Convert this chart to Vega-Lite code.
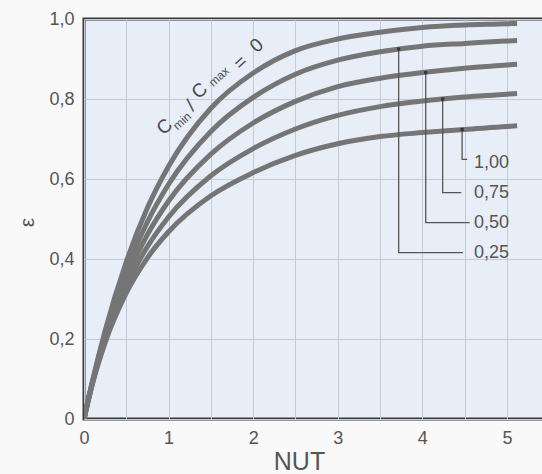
{
  "$schema": "https://vega.github.io/schema/vega-lite/v6.json",
  "width": 461,
  "height": 400,
  "autosize": "none",
  "padding": {"left": 84, "top": 19, "right": 0, "bottom": 55},
  "background": "#f9f9f9",
  "config": {
    "view": {"fill": "#e8eef8", "stroke": "#3a3a3a", "strokeWidth": 3},
    "font": "Liberation Sans"
  },
  "datasets": {
    "curves": [
      {"C": "0", "N": 0, "eps": 0}, {"C": "0", "N": 0.05, "eps": 0.049}, {"C": "0", "N": 0.1, "eps": 0.095}, {"C": "0", "N": 0.25, "eps": 0.221}, {"C": "0", "N": 0.5, "eps": 0.393}, {"C": "0", "N": 0.75, "eps": 0.528}, {"C": "0", "N": 1, "eps": 0.632}, {"C": "0", "N": 1.5, "eps": 0.777}, {"C": "0", "N": 2, "eps": 0.865}, {"C": "0", "N": 2.5, "eps": 0.921}, {"C": "0", "N": 3, "eps": 0.950}, {"C": "0", "N": 3.5, "eps": 0.967}, {"C": "0", "N": 4, "eps": 0.979}, {"C": "0", "N": 4.5, "eps": 0.985}, {"C": "0", "N": 5, "eps": 0.988}, {"C": "0", "N": 5.12, "eps": 0.989},
      {"C": "0.25", "N": 0, "eps": 0}, {"C": "0.25", "N": 0.05, "eps": 0.048}, {"C": "0.25", "N": 0.1, "eps": 0.093}, {"C": "0.25", "N": 0.25, "eps": 0.213}, {"C": "0.25", "N": 0.5, "eps": 0.372}, {"C": "0.25", "N": 0.75, "eps": 0.493}, {"C": "0.25", "N": 1, "eps": 0.587}, {"C": "0.25", "N": 1.5, "eps": 0.719}, {"C": "0.25", "N": 2, "eps": 0.804}, {"C": "0.25", "N": 2.5, "eps": 0.862}, {"C": "0.25", "N": 3, "eps": 0.897}, {"C": "0.25", "N": 3.5, "eps": 0.918}, {"C": "0.25", "N": 4, "eps": 0.932}, {"C": "0.25", "N": 4.5, "eps": 0.939}, {"C": "0.25", "N": 5, "eps": 0.945}, {"C": "0.25", "N": 5.12, "eps": 0.946},
      {"C": "0.5", "N": 0, "eps": 0}, {"C": "0.5", "N": 0.05, "eps": 0.047}, {"C": "0.5", "N": 0.1, "eps": 0.091}, {"C": "0.5", "N": 0.25, "eps": 0.206}, {"C": "0.5", "N": 0.5, "eps": 0.352}, {"C": "0.5", "N": 0.75, "eps": 0.461}, {"C": "0.5", "N": 1, "eps": 0.545}, {"C": "0.5", "N": 1.5, "eps": 0.662}, {"C": "0.5", "N": 2, "eps": 0.740}, {"C": "0.5", "N": 2.5, "eps": 0.794}, {"C": "0.5", "N": 3, "eps": 0.831}, {"C": "0.5", "N": 3.5, "eps": 0.852}, {"C": "0.5", "N": 4, "eps": 0.866}, {"C": "0.5", "N": 4.5, "eps": 0.877}, {"C": "0.5", "N": 5, "eps": 0.885}, {"C": "0.5", "N": 5.12, "eps": 0.887},
      {"C": "0.75", "N": 0, "eps": 0}, {"C": "0.75", "N": 0.05, "eps": 0.047}, {"C": "0.75", "N": 0.1, "eps": 0.090}, {"C": "0.75", "N": 0.25, "eps": 0.198}, {"C": "0.75", "N": 0.5, "eps": 0.333}, {"C": "0.75", "N": 0.75, "eps": 0.431}, {"C": "0.75", "N": 1, "eps": 0.505}, {"C": "0.75", "N": 1.5, "eps": 0.608}, {"C": "0.75", "N": 2, "eps": 0.676}, {"C": "0.75", "N": 2.5, "eps": 0.725}, {"C": "0.75", "N": 3, "eps": 0.759}, {"C": "0.75", "N": 3.5, "eps": 0.781}, {"C": "0.75", "N": 4, "eps": 0.795}, {"C": "0.75", "N": 4.5, "eps": 0.805}, {"C": "0.75", "N": 5, "eps": 0.812}, {"C": "0.75", "N": 5.12, "eps": 0.814},
      {"C": "1", "N": 0, "eps": 0}, {"C": "1", "N": 0.05, "eps": 0.046}, {"C": "1", "N": 0.1, "eps": 0.088}, {"C": "1", "N": 0.25, "eps": 0.191}, {"C": "1", "N": 0.5, "eps": 0.315}, {"C": "1", "N": 0.75, "eps": 0.403}, {"C": "1", "N": 1, "eps": 0.468}, {"C": "1", "N": 1.5, "eps": 0.558}, {"C": "1", "N": 2, "eps": 0.616}, {"C": "1", "N": 2.5, "eps": 0.659}, {"C": "1", "N": 3, "eps": 0.688}, {"C": "1", "N": 3.5, "eps": 0.706}, {"C": "1", "N": 4, "eps": 0.716}, {"C": "1", "N": 4.5, "eps": 0.724}, {"C": "1", "N": 5, "eps": 0.731}, {"C": "1", "N": 5.12, "eps": 0.733}
    ],
    "leaders": [
      {"C": "1", "ord": 1, "N": 4.47, "eps": 0.724}, {"C": "1", "ord": 2, "N": 4.47, "eps": 0.649}, {"C": "1", "ord": 3, "N": 4.53, "eps": 0.649},
      {"C": "0.75", "ord": 1, "N": 4.24, "eps": 0.800}, {"C": "0.75", "ord": 2, "N": 4.24, "eps": 0.566}, {"C": "0.75", "ord": 3, "N": 4.46, "eps": 0.566},
      {"C": "0.5", "ord": 1, "N": 4.04, "eps": 0.866}, {"C": "0.5", "ord": 2, "N": 4.04, "eps": 0.491}, {"C": "0.5", "ord": 3, "N": 4.56, "eps": 0.491},
      {"C": "0.25", "ord": 1, "N": 3.72, "eps": 0.925}, {"C": "0.25", "ord": 2, "N": 3.72, "eps": 0.416}, {"C": "0.25", "ord": 3, "N": 4.48, "eps": 0.416}
    ],
    "labels": [
      {"txt": "1,00", "N": 4.61, "eps": 0.641},
      {"txt": "0,75", "N": 4.61, "eps": 0.564},
      {"txt": "0,50", "N": 4.61, "eps": 0.491},
      {"txt": "0,25", "N": 4.61, "eps": 0.414}
    ],
    "bigtxt": [
      {"txt": "C", "N": 0.953, "eps": 0.731},
      {"txt": "/", "N": 1.261, "eps": 0.784},
      {"txt": "C", "N": 1.367, "eps": 0.821},
      {"txt": "=", "N": 1.852, "eps": 0.891},
      {"txt": "0", "N": 2.041, "eps": 0.934}
    ],
    "smalltxt": [
      {"txt": "min", "N": 1.16, "eps": 0.745},
      {"txt": "max", "N": 1.595, "eps": 0.856}
    ]
  },
  "layer": [
    {
      "data": {"name": "curves"},
      "mark": {"type": "line", "color": "#757575", "strokeWidth": 5, "interpolate": "monotone", "clip": true},
      "encoding": {
        "x": {
          "field": "N", "type": "quantitative",
          "scale": {"domain": [0, 5.45], "nice": false, "zero": false},
          "axis": {
            "values": [0, 0.5, 1, 1.5, 2, 2.5, 3, 3.5, 4, 4.5, 5],
            "labelExpr": "datum.value % 1 == 0 ? format(datum.value, 'd') : ''",
            "labelOverlap": false, "labelFlush": false,
            "grid": true, "gridColor": "#c4cbd8", "gridWidth": 1,
            "ticks": false, "domain": false,
            "labelFontSize": 18, "labelColor": "#555555", "labelPadding": 10,
            "title": "NUT", "titleFontSize": 25, "titleFontWeight": "normal", "titleColor": "#555555",
            "titleX": 215, "titleY": 50, "titleBaseline": "alphabetic", "titleAlign": "center"
          }
        },
        "y": {
          "field": "eps", "type": "quantitative",
          "scale": {"domain": [0, 1], "nice": false},
          "axis": {
            "values": [0, 0.1, 0.2, 0.3, 0.4, 0.5, 0.6, 0.7, 0.8, 0.9, 1.0],
            "labelExpr": "round(datum.value * 10) % 2 == 0 ? (datum.value == 0 ? '0' : replace(format(datum.value, '.1f'), '.', ',')) : ''",
            "labelOverlap": false, "labelFlush": false,
            "grid": true, "gridColor": "#c4cbd8", "gridWidth": 1,
            "ticks": false, "domain": false,
            "labelFontSize": 18, "labelColor": "#555555", "labelPadding": 10,
            "title": "ε", "titleFontSize": 21, "titleFontWeight": "normal", "titleColor": "#555555",
            "titleAngle": -90, "titleX": -57, "titleY": 203, "titleAlign": "center", "titleBaseline": "middle"
          }
        },
        "detail": {"field": "C"}
      }
    },
    {
      "data": {"name": "leaders"},
      "mark": {"type": "line", "color": "#555555", "strokeWidth": 1.3, "interpolate": "linear"},
      "encoding": {
        "x": {"field": "N", "type": "quantitative"},
        "y": {"field": "eps", "type": "quantitative"},
        "detail": {"field": "C"},
        "order": {"field": "ord"}
      }
    },
    {
      "data": {"name": "leaders"},
      "transform": [{"filter": "datum.ord == 1"}],
      "mark": {"type": "point", "shape": "square", "filled": true, "color": "#333333", "size": 10, "opacity": 1},
      "encoding": {
        "x": {"field": "N", "type": "quantitative"},
        "y": {"field": "eps", "type": "quantitative"}
      }
    },
    {
      "data": {"name": "labels"},
      "mark": {"type": "text", "align": "left", "baseline": "middle", "fontSize": 18, "color": "#555555"},
      "encoding": {
        "x": {"field": "N", "type": "quantitative"},
        "y": {"field": "eps", "type": "quantitative"},
        "text": {"field": "txt"}
      }
    },
    {
      "data": {"name": "bigtxt"},
      "mark": {"type": "text", "align": "center", "baseline": "middle", "fontSize": 19, "angle": -42, "color": "#4a4a4a"},
      "encoding": {
        "x": {"field": "N", "type": "quantitative"},
        "y": {"field": "eps", "type": "quantitative"},
        "text": {"field": "txt"}
      }
    },
    {
      "data": {"name": "smalltxt"},
      "mark": {"type": "text", "align": "center", "baseline": "middle", "fontSize": 12, "angle": -42, "color": "#4a4a4a"},
      "encoding": {
        "x": {"field": "N", "type": "quantitative"},
        "y": {"field": "eps", "type": "quantitative"},
        "text": {"field": "txt"}
      }
    }
  ]
}
